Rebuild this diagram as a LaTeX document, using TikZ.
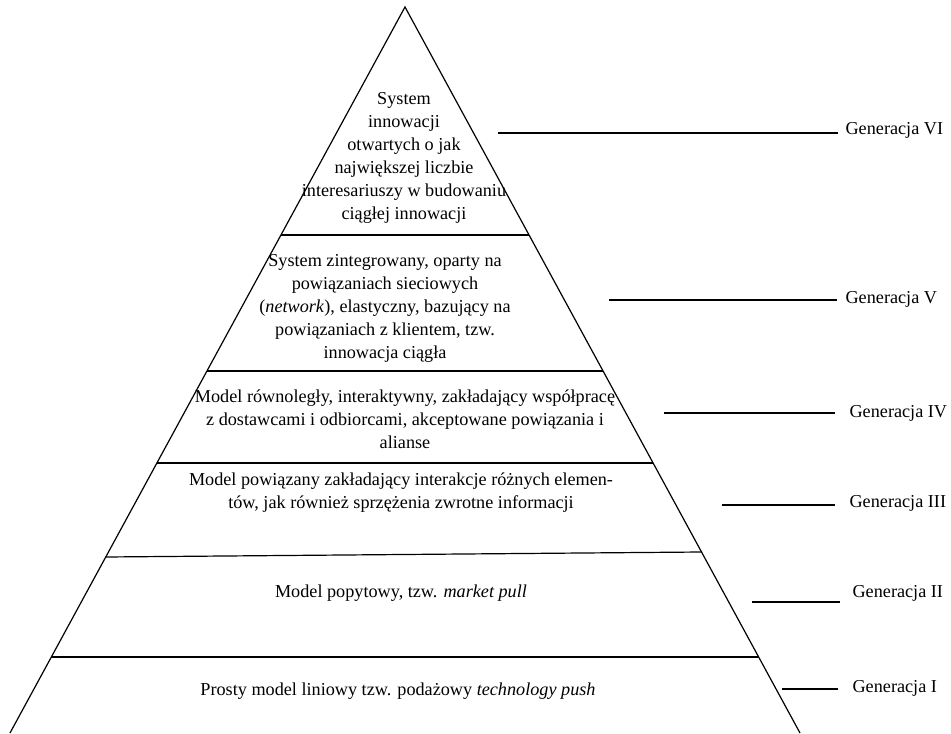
\documentclass[tikz,border=0pt]{standalone}
\usepackage{fontspec}
\setmainfont{Liberation Serif}
\begin{document}
\begin{tikzpicture}[x=0.75pt,y=-0.75pt,line width=0.9pt,
  blk/.style={align=center,inner sep=0pt,font=\fontsize{13.65}{17.25}\selectfont},
  lab/.style={anchor=base west,inner sep=0pt,font=\fontsize{13.65}{17.25}\selectfont},
  tick/.style={line width=0.9pt}]
\useasboundingbox (0,0) rectangle (951,734);
% pyramid
\coordinate (A) at (405,7);
\coordinate (BL) at (10,733);
\coordinate (BR) at (800,733);
\draw (BL) -- (A) -- (BR);
% layer borders
\draw (281,235) -- (529,235);
\draw (207,371) -- (603,371);
\draw (157,463) -- (653,463);
\draw (106,557) -- (702,552);
\draw (51,657) -- (759,657);
% texts
\node[blk] (t6) at (404,158) {System\\innowacji\\otwartych o jak\\największej liczbie\\interesariuszy w budowaniu\\ciągłej innowacji};
\node[blk] (t5) at (385,308) {System zintegrowany, oparty na\\powiązaniach sieciowych\\(\textit{network}), elastyczny, bazujący na\\powiązaniach z klientem, tzw.\\innowacja ciągła};
\node[blk] (t4) at (405,419) {Model równoległy, interaktywny, zakładający współpracę\\z dostawcami i odbiorcami, akceptowane powiązania i\\alianse};
\node[blk] (t3) at (401,493) {Model powiązany zakładający interakcje różnych elemen-\\tów, jak również sprzężenia zwrotne informacji};
\node[blk] (t2) at (401,593) {Model popytowy, tzw. \textit{market pull}};
\node[blk] (t1) at (398,691) {Prosty model liniowy tzw. podażowy \textit{technology push}};
% generation labels
\node[lab] (g6) at (845,135) {Generacja VI};
\node[lab] (g5) at (845,304) {Generacja V};
\node[lab] (g4) at (849,418) {Generacja IV};
\node[lab] (g3) at (849,508) {Generacja III};
\node[lab] (g2) at (852,598) {Generacja II};
\node[lab] (g1) at (852,692) {Generacja I};
\coordinate (s6) at (498,133);
\coordinate (s5) at (609,300);
\coordinate (s4) at (664,413);
\coordinate (s3) at (722,505);
\coordinate (s2) at (752,602);
\coordinate (s1) at (782,689);
\draw[tick] (s6) -- ([xshift=-5.25pt]s6 -| g6.west);
\draw[tick] (s5) -- ([xshift=-6pt]s5 -| g5.west);
\draw[tick] (s4) -- ([xshift=-10.5pt]s4 -| g4.west);
\draw[tick] (s3) -- ([xshift=-10.5pt]s3 -| g3.west);
\draw[tick] (s2) -- ([xshift=-9pt]s2 -| g2.west);
\draw[tick] (s1) -- ([xshift=-10.5pt]s1 -| g1.west);
\end{tikzpicture}
\end{document}
